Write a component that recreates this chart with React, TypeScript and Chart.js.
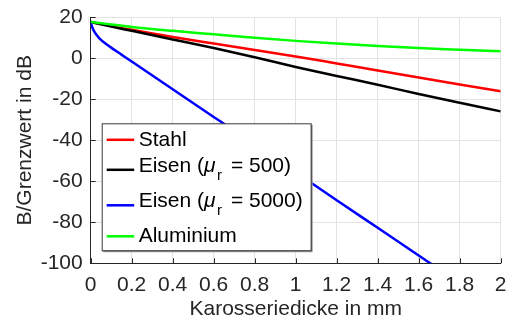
import React, { useEffect, useRef } from "react";
import { Chart, registerables } from "chart.js";

Chart.register(...registerables);

const xTicks = [0, 0.2, 0.4, 0.6, 0.8, 1, 1.2, 1.4, 1.6, 1.8, 2];
const yTicks = [-100, -80, -60, -40, -20, 0, 20];

const thickness = [0, 0.1, 0.2, 0.4, 0.6, 0.8, 1.0, 1.2, 1.4, 1.6, 1.8, 2.0];
const stahl = [17.7, 15.7, 13.9, 10.4, 7.2, 4.1, 0.9, -2.5, -5.9, -9.4, -12.8, -16.1];
const eisen500 = [17.7, 15.5, 13.4, 9.2, 5.0, 0.5, -4.2, -8.6, -12.9, -17.4, -21.7, -25.9];
const aluminium = [17.7, 16.5, 15.3, 13.4, 11.7, 10.0, 8.5, 7.2, 6.0, 5.0, 4.2, 3.4];

const thicknessFine = [0, 0.005, 0.01, 0.02, 0.03, 0.04, 0.05, 0.075, 0.1, 0.15, 0.2, 0.4, 0.6, 0.8, 1.0, 1.2, 1.4, 1.6, 1.8, 2.0];
const eisen5000 = [17.7, 15.9, 14.5, 12.6, 11.2, 10.0, 9.0, 7.0, 5.2, 1.8, -1.6, -15.1, -28.6, -42.1, -55.6, -69.2, -82.7, -96.2, -109.7, -123.2];

const seriesNames = ["Stahl", "Eisen", "Eisen", "Aluminium"];
const seriesMu = [null, "500", "5000", null];
const seriesColors = ["#ff0000", "#000000", "#0000ff", "#00ff00"];

const xTitle = "Karosseriedicke in mm";
const yTitle = "B/Grenzwert in dB";

const FONT = '"Liberation Sans", Arial, sans-serif';
const FS = 21;
const AXIS = "#262626";

const toPts = (xs: number[], ys: number[]) => xs.map((x, i) => ({ x, y: ys[i] }));

const tickPlugin = {
  id: "inwardTicks",
  afterDatasetsDraw(chart: any) {
    const ctx = chart.ctx;
    const { left, bottom } = chart.chartArea;
    const xs = chart.scales.x;
    const ys = chart.scales.y;
    ctx.save();
    ctx.strokeStyle = AXIS;
    ctx.lineWidth = 1;
    ctx.beginPath();
    xTicks.forEach((t) => {
      const px = Math.round(xs.getPixelForValue(t)) + 0.5;
      ctx.moveTo(px, bottom);
      ctx.lineTo(px, bottom - 5);
    });
    yTicks.forEach((t) => {
      const py = Math.round(ys.getPixelForValue(t)) + 0.5;
      ctx.moveTo(left, py);
      ctx.lineTo(left + 5, py);
    });
    ctx.stroke();
    ctx.restore();
  },
};

const legendPlugin = {
  id: "boxLegend",
  afterDraw(chart: any) {
    const ctx = chart.ctx;
    const { left, top } = chart.chartArea;
    const bx = left + 11.5;
    const by = top + 106.5;
    const bw = 209;
    const bh = 127;
    ctx.save();
    ctx.fillStyle = "#ffffff";
    ctx.fillRect(bx, by, bw, bh);
    ctx.strokeStyle = "#9a9a9a";
    ctx.lineWidth = 2;
    ctx.beginPath();
    ctx.moveTo(bx + 1, by + bh + 0.5);
    ctx.lineTo(bx + bw + 0.5, by + bh + 0.5);
    ctx.lineTo(bx + bw + 0.5, by + 1);
    ctx.stroke();
    ctx.strokeStyle = "#3a3a3a";
    ctx.lineWidth = 1;
    ctx.strokeRect(bx, by, bw, bh);

    const lineY = [16, 46, 81.5, 112.5];
    const textY = [16, 42, 77.5, 112.5];
    const lx0 = bx + 4.5;
    const lx1 = bx + 32;
    const tx = bx + 36.5;
    for (let i = 0; i < seriesNames.length; i++) {
      ctx.strokeStyle = seriesColors[i];
      ctx.lineWidth = 2.5;
      ctx.beginPath();
      ctx.moveTo(lx0, by + lineY[i]);
      ctx.lineTo(lx1, by + lineY[i]);
      ctx.stroke();

      ctx.fillStyle = "#000000";
      ctx.textBaseline = "middle";
      ctx.textAlign = "left";
      ctx.font = `${FS}px ${FONT}`;
      const y = by + textY[i];
      let x = tx;
      if (seriesMu[i] === null) {
        ctx.fillText(seriesNames[i], x, y);
      } else {
        const pre = seriesNames[i] + " (";
        ctx.fillText(pre, x, y);
        x += ctx.measureText(pre).width;
        ctx.font = `italic ${FS}px ${FONT}`;
        ctx.fillText("\u03bc", x, y);
        x += ctx.measureText("\u03bc").width + 1.5;
        ctx.font = `15px ${FONT}`;
        ctx.fillText("r", x, y + 10);
        x += ctx.measureText("r").width + 3;
        ctx.font = `${FS}px ${FONT}`;
        ctx.fillText(" = " + seriesMu[i] + ")", x, y);
      }
    }
    ctx.restore();
  },
};

export default function App() {
  const ref = useRef<HTMLCanvasElement>(null);
  useEffect(() => {
    document.body.style.margin = "0";
    const canvas = ref.current!;
    const series = [
      { data: toPts(thickness, stahl), order: 3 },
      { data: toPts(thickness, eisen500), order: 2 },
      { data: toPts(thicknessFine, eisen5000), order: 1 },
      { data: toPts(thickness, aluminium), order: 0 },
    ];
    const chart = new Chart(canvas, {
      type: "line",
      data: {
        datasets: series.map((s, i) => ({
          label: seriesNames[i],
          data: s.data,
          order: s.order,
          borderColor: seriesColors[i],
          backgroundColor: seriesColors[i],
          borderWidth: 2.5,
          pointRadius: 0,
          fill: false,
          cubicInterpolationMode: "monotone" as const,
        })),
      },
      options: {
        responsive: false,
        animation: false,
        devicePixelRatio: 1,
        layout: { padding: { top: 17.3, right: 9.3, left: 0, bottom: 0 } },
        plugins: { legend: { display: false }, tooltip: { enabled: false } },
        scales: {
          x: {
            type: "linear",
            min: 0,
            max: 2,
            afterBuildTicks: (scale: any) => {
              scale.ticks = xTicks.map((v) => ({ value: v }));
            },
            afterFit: (scale: any) => {
              scale.height = 56.7;
              scale.paddingLeft = 0;
              scale.paddingRight = 0;
            },
            ticks: {
              color: AXIS,
              font: { family: FONT, size: FS },
              padding: 9,
              maxRotation: 0,
              autoSkip: false,
              callback: (v: any) => String(Number(Number(v).toFixed(1))),
            },
            grid: { color: "#e3e3e3", drawTicks: false },
            border: { color: AXIS, width: 1 },
            title: {
              display: true,
              text: xTitle,
              color: AXIS,
              font: { family: FONT, size: FS, lineHeight: 1 },
              padding: { top: 0, bottom: 0 },
            },
          },
          y: {
            type: "linear",
            min: -100,
            max: 20,
            afterBuildTicks: (scale: any) => {
              scale.ticks = yTicks.map((v) => ({ value: v }));
            },
            afterFit: (scale: any) => {
              scale.width = 90.7;
              scale.paddingTop = 0;
              scale.paddingBottom = 0;
            },
            ticks: {
              color: AXIS,
              font: { family: FONT, size: FS },
              padding: 8,
              autoSkip: false,
            },
            grid: { color: "#e3e3e3", drawTicks: false },
            border: { color: AXIS, width: 1 },
            title: {
              display: true,
              text: yTitle,
              color: AXIS,
              font: { family: FONT, size: FS, lineHeight: 1 },
              padding: { top: 15, bottom: 0 },
            },
          },
        },
      },
      plugins: [tickPlugin, legendPlugin],
    });
    return () => chart.destroy();
  }, []);
  return (
    <div style={{ position: "absolute", left: 0, top: 0, width: 510, height: 320 }}>
      <canvas ref={ref} width={510} height={320} />
    </div>
  );
}
